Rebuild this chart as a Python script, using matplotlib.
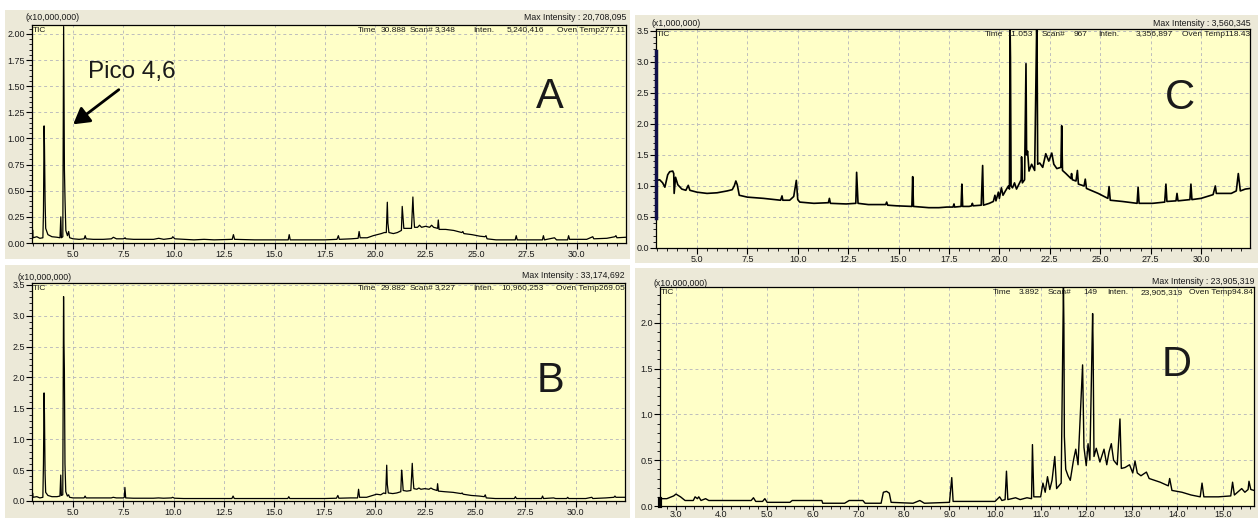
import matplotlib
matplotlib.use("Agg")
import matplotlib.pyplot as plt
from matplotlib.patches import Rectangle, FancyArrowPatch
from matplotlib.ticker import MultipleLocator, FormatStrFormatter

# ---------------- data (retention time in min, intensity in axis units) -------------
ab_time = [3.00, 3.01, 3.20, 3.35, 3.50, 3.53, 3.56, 3.58, 3.61, 3.64, 3.75, 3.95, 4.20, 4.35,
           4.39, 4.42, 4.49, 4.53, 4.55, 4.57, 4.60, 4.64, 4.72, 4.78, 4.83, 5.00, 5.30, 5.55,
           5.60, 5.65, 6.00, 6.50, 6.90, 7.00, 7.15, 7.50, 7.55, 7.58, 7.62, 8.00, 9.00, 9.25,
           9.50, 9.90, 9.95, 10.05, 10.50, 11.00, 11.50, 12.00, 12.90, 12.96, 13.02, 14.00,
           15.00, 15.68, 15.73, 15.78, 16.50, 17.50, 18.10, 18.17, 18.22, 18.80, 19.15, 19.20,
           19.25, 19.60, 19.90, 20.10, 20.30, 20.45, 20.55, 20.60, 20.63, 20.68, 20.90, 21.10,
           21.30, 21.34, 21.37, 21.42, 21.60, 21.80, 21.87, 21.90, 21.95, 22.10, 22.20, 22.30,
           22.50, 22.70, 22.80, 22.90, 23.10, 23.13, 23.17, 23.50, 23.90, 24.30, 24.35, 24.40,
           24.80, 25.20, 25.45, 25.50, 25.55, 26.00, 26.50, 26.95, 27.00, 27.05, 28.30, 28.35,
           28.40, 28.90, 29.00, 29.55, 29.60, 29.65, 30.50, 30.80, 30.85, 31.50, 31.90, 31.95,
           32.00, 32.45]

a_inten = [0.12, 0.05, 0.06, 0.045, 0.05, 0.30, 1.12, 0.92, 0.40, 0.14, 0.08, 0.06, 0.055, 0.05,
           0.25, 0.05, 0.06, 2.07, 1.28, 0.70, 0.41, 0.12, 0.07, 0.11, 0.05, 0.04, 0.035, 0.04,
           0.07, 0.04, 0.035, 0.035, 0.04, 0.055, 0.04, 0.04, 0.045, 0.05, 0.04, 0.035, 0.035, 0.045,
           0.035, 0.045, 0.06, 0.04, 0.035, 0.03, 0.035, 0.03, 0.035, 0.08, 0.035, 0.03,
           0.03, 0.03, 0.08, 0.03, 0.03, 0.03, 0.035, 0.07, 0.035, 0.04, 0.045, 0.11,
           0.05, 0.05, 0.07, 0.08, 0.09, 0.10, 0.10, 0.39, 0.19, 0.10, 0.09, 0.10,
           0.12, 0.35, 0.27, 0.14, 0.14, 0.14, 0.44, 0.30, 0.15, 0.15, 0.17, 0.15,
           0.16, 0.15, 0.17, 0.15, 0.14, 0.22, 0.13, 0.13, 0.12, 0.10, 0.11, 0.09,
           0.08, 0.065, 0.06, 0.07, 0.04, 0.03, 0.03, 0.03, 0.07, 0.03, 0.03, 0.07,
           0.03, 0.05, 0.03, 0.03, 0.07, 0.035, 0.035, 0.06, 0.04, 0.045, 0.06, 0.07,
           0.05, 0.055]

b_inten = [0.12, 0.06, 0.07, 0.05, 0.06, 0.60, 1.75, 1.40, 0.45, 0.14, 0.09, 0.07, 0.07, 0.08,
           0.42, 0.09, 0.10, 3.31, 2.57, 2.13, 0.60, 0.15, 0.08, 0.10, 0.06, 0.05, 0.05, 0.05,
           0.08, 0.05, 0.05, 0.05, 0.05, 0.06, 0.05, 0.05, 0.06, 0.22, 0.05, 0.045, 0.045, 0.05,
           0.045, 0.05, 0.06, 0.045, 0.04, 0.04, 0.04, 0.04, 0.04, 0.08, 0.04, 0.04,
           0.04, 0.04, 0.07, 0.04, 0.04, 0.04, 0.045, 0.09, 0.045, 0.05, 0.05, 0.19,
           0.06, 0.06, 0.09, 0.11, 0.10, 0.13, 0.12, 0.58, 0.27, 0.13, 0.12, 0.13,
           0.15, 0.50, 0.40, 0.17, 0.16, 0.17, 0.61, 0.40, 0.20, 0.19, 0.21, 0.19,
           0.20, 0.19, 0.21, 0.19, 0.17, 0.28, 0.16, 0.15, 0.14, 0.12, 0.13, 0.11,
           0.09, 0.08, 0.07, 0.10, 0.05, 0.04, 0.04, 0.04, 0.07, 0.04, 0.04, 0.08,
           0.04, 0.05, 0.04, 0.04, 0.06, 0.04, 0.04, 0.06, 0.04, 0.05, 0.06, 0.08,
           0.06, 0.06]

c_time = [3.00, 3.15, 3.30, 3.41, 3.55, 3.65, 3.80, 3.85, 3.87, 3.94, 4.05, 4.25, 4.45, 4.57,
          4.65, 5.00, 5.50, 6.00, 6.50, 6.75, 6.85, 6.93, 7.00, 7.10, 7.50, 8.30, 9.15, 9.22,
          9.26, 9.60, 9.80, 9.93, 10.00, 10.10, 10.80, 11.52, 11.57, 11.62, 12.40, 12.88, 12.92,
          12.95, 12.99, 13.50, 14.36, 14.41, 14.46, 14.90, 15.66, 15.70, 15.74, 16.50, 17.00,
          17.40, 17.70, 17.75, 17.78, 18.10, 18.14, 18.18, 18.50, 18.62, 18.66, 18.70, 19.10,
          19.17, 19.21, 19.50, 19.70, 19.78, 19.83, 19.95, 20.00, 20.10, 20.18, 20.30, 20.45,
          20.50, 20.53, 20.55, 20.58, 20.65, 20.75, 20.85, 21.00, 21.08, 21.10, 21.14, 21.25,
          21.32, 21.35, 21.40, 21.47, 21.60, 21.75, 21.85, 21.87, 21.90, 22.00, 22.15, 22.30,
          22.45, 22.60, 22.70, 22.85, 23.05, 23.09, 23.13, 23.30, 23.55, 23.58, 23.62, 23.80,
          23.87, 23.92, 24.20, 24.26, 24.32, 24.90, 25.38, 25.44, 25.50, 26.10, 26.83, 26.88,
          26.93, 27.60, 28.20, 28.26, 28.31, 28.76, 28.81, 28.86, 29.45, 29.50, 29.55, 30.00,
          30.30, 30.60, 30.71, 30.76, 31.50, 31.75, 31.85, 31.95, 32.20, 32.43]

c_inten = [1.09, 1.10, 1.05, 0.98, 1.18, 1.23, 1.24, 1.20, 0.88, 1.14, 1.02, 0.95, 0.93, 1.01,
           0.93, 0.90, 0.88, 0.89, 0.92, 0.94, 1.00, 1.08, 1.02, 0.85, 0.82, 0.80, 0.77, 0.84,
           0.77, 0.77, 0.83, 1.09, 0.78, 0.74, 0.72, 0.73, 0.80, 0.72, 0.71, 0.72, 1.22,
           1.02, 0.72, 0.70, 0.70, 0.74, 0.69, 0.68, 0.67, 1.15, 0.67, 0.65, 0.65,
           0.66, 0.66, 0.71, 0.66, 0.67, 1.03, 0.67, 0.67, 0.68, 0.72, 0.68, 0.69,
           1.33, 0.69, 0.72, 0.75, 0.85, 0.76, 0.90, 0.80, 0.97, 0.85, 0.92, 1.00,
           0.95, 3.56, 3.07, 1.00, 0.97, 1.05, 0.95, 1.05, 1.10, 1.47, 1.05, 1.10,
           2.97, 1.50, 1.56, 1.24, 1.35, 1.25, 3.56, 3.23, 1.35, 1.37, 1.30, 1.52,
           1.40, 1.53, 1.35, 1.28, 1.30, 1.97, 1.25, 1.20, 1.12, 1.20, 1.10, 1.08,
           1.25, 1.03, 1.00, 1.11, 0.96, 0.88, 0.80, 0.99, 0.77, 0.75, 0.72, 0.98,
           0.72, 0.72, 0.74, 1.03, 0.75, 0.76, 0.88, 0.76, 0.78, 1.03, 0.78, 0.80,
           0.83, 0.86, 1.00, 0.88, 0.88, 0.92, 1.20, 0.92, 0.95, 0.96]

c_marker = [0.48, 3.18]

d_time = [2.65, 2.66, 2.80, 2.95, 3.00, 3.10, 3.20, 3.38, 3.42, 3.47, 3.50, 3.55, 3.65, 3.72,
          4.00, 4.40, 4.65, 4.70, 4.75, 4.90, 4.95, 5.00, 5.50, 5.55, 6.00, 6.20, 6.22, 6.70,
          6.80, 7.10, 7.15, 7.50, 7.55, 7.62, 7.68, 7.72, 8.20, 8.35, 8.45, 9.00, 9.05, 9.08,
          9.50, 10.00, 10.10, 10.15, 10.22, 10.25, 10.28, 10.45, 10.55, 10.70, 10.80, 10.82,
          10.85, 11.00, 11.05, 11.10, 11.15, 11.20, 11.25, 11.31, 11.35, 11.45, 11.50, 11.51,
          11.52, 11.55, 11.60, 11.65, 11.72, 11.77, 11.82, 11.92, 11.95, 12.00, 12.04, 12.08,
          12.14, 12.15, 12.17, 12.22, 12.30, 12.39, 12.45, 12.50, 12.55, 12.60, 12.68, 12.74,
          12.77, 12.85, 12.95, 13.02, 13.07, 13.12, 13.20, 13.32, 13.38, 13.62, 13.80, 13.83,
          13.88, 14.10, 14.30, 14.50, 14.54, 14.58, 14.90, 15.17, 15.21, 15.25, 15.41, 15.48,
          15.55, 15.57, 15.61, 15.68]

d_inten = [0.11, 0.08, 0.08, 0.11, 0.13, 0.10, 0.06, 0.06, 0.10, 0.08, 0.10, 0.06, 0.08, 0.06,
           0.06, 0.06, 0.06, 0.09, 0.05, 0.05, 0.08, 0.04, 0.04, 0.06, 0.06, 0.06, 0.03, 0.03,
           0.06, 0.06, 0.03, 0.03, 0.15, 0.16, 0.14, 0.04, 0.03, 0.06, 0.03, 0.04, 0.31, 0.05,
           0.05, 0.05, 0.10, 0.06, 0.07, 0.38, 0.07, 0.09, 0.07, 0.09, 0.08, 0.67,
           0.10, 0.10, 0.25, 0.15, 0.32, 0.18, 0.28, 0.54, 0.19, 0.25, 2.39, 1.96,
           0.76, 0.40, 0.33, 0.28, 0.50, 0.62, 0.45, 1.54, 0.64, 0.44, 0.68, 0.50,
           2.10, 1.76, 0.54, 0.63, 0.48, 0.62, 0.45, 0.59, 0.68, 0.50, 0.45, 0.95,
           0.41, 0.42, 0.45, 0.36, 0.49, 0.36, 0.33, 0.37, 0.30, 0.26, 0.22, 0.30,
           0.17, 0.15, 0.12, 0.10, 0.25, 0.10, 0.10, 0.11, 0.26, 0.12, 0.19, 0.15,
           0.18, 0.27, 0.18, 0.17]

d_marker = [0.0, 0.08]

panel_letters = ["A", "B", "C", "D"]
scale_labels = ["(x10,000,000)", "(x10,000,000)", "(x1,000,000)", "(x10,000,000)"]
max_labels = ["Max Intensity : 20,708,095", "Max Intensity : 33,174,692",
              "Max Intensity : 3,560,345", "Max Intensity : 23,905,319"]
time_vals = ["30.888", "29.882", "11.053", "3.892"]
scan_vals = ["3,348", "3,227", "967", "149"]
inten_vals = ["5,240,416", "10,960,253", "3,356,897", "23,905,319"]
oven_vals = ["Oven Temp277.11", "Oven Temp269.05", "Oven Temp118.43", "Oven Temp94.84"]

# ---------------- figure -------------------------------------------------------------
W, H = 1258, 518
fig = plt.figure(figsize=(W / 100, H / 100), dpi=100)
fig.patch.set_facecolor("white")

SMALL = ["Liberation Sans Narrow", "Liberation Sans", "DejaVu Sans"]
BIG = ["Liberation Sans", "DejaVu Sans"]
PANEL_BG = "#ECE9D8"
PLOT_BG = "#FFFFC8"
TXT = "#1a1a1a"


def frect(l, t, r, b):
    return [l / W, 1 - b / H, (r - l) / W, (b - t) / H]


def ftext(px, py, s, ha="left", size=6.3, family=SMALL, **kw):
    fig.text(px / W, 1 - py / H, s, ha=ha, va="center", fontsize=size,
             family=family, color=TXT, **kw)


layouts = [
    dict(bg=(5, 10, 630, 259), ax=(32, 25, 626, 243), x=ab_time, y=a_inten, lw=0.9,
         xlim=(2.96, 32.45), ylim=(0, 2.085), xmaj=2.5, xmin=0.5, ymaj=0.25, ymin=0.05,
         yfmt="%.2f", letter=(550, 97), scale=(25, 18), tic=(33, 30), maxp=(626, 17),
         row=dict(py=30, time=358, tval=406, scan=410, sval=456, inten=473, ival=544, oven=625)),
    dict(bg=(5, 265, 630, 518), ax=(32, 283, 625, 501), x=ab_time, y=b_inten, lw=0.9,
         xlim=(2.96, 32.45), ylim=(0, 3.53), xmaj=2.5, xmin=0.5, ymaj=0.5, ymin=0.1,
         yfmt="%.1f", letter=(550, 381), scale=(17, 278), tic=(33, 288), maxp=(625, 276),
         row=dict(py=288, time=358, tval=406, scan=410, sval=456, inten=473, ival=544, oven=625)),
    dict(bg=(635, 15, 1258, 263), ax=(656, 29, 1250, 248), x=c_time, y=c_inten, lw=1.2,
         xlim=(2.97, 32.43), ylim=(0, 3.53), xmaj=2.5, xmin=0.5, ymaj=0.5, ymin=0.1,
         yfmt="%.1f", letter=(1180, 98), scale=(651, 24), tic=(657, 34), maxp=(1251, 23),
         row=dict(py=34, time=985, tval=1033, scan=1042, sval=1088, inten=1098, ival=1173, oven=1250)),
    dict(bg=(635, 268, 1258, 518), ax=(660, 287, 1254, 506), x=d_time, y=d_inten, lw=1.0,
         xlim=(2.65, 15.68), ylim=(0, 2.39), xmaj=1.0, xmin=0.2, ymaj=0.5, ymin=0.1,
         yfmt="%.1f", letter=(1177, 365), scale=(654, 283), tic=(661, 293), maxp=(1254, 282),
         row=dict(py=293, time=993, tval=1040, scan=1048, sval=1097, inten=1107, ival=1183, oven=1253)),
]

for k, L in enumerate(layouts):
    l, t, r, b = L["bg"]
    fig.add_artist(Rectangle((l / W, 1 - b / H), (r - l) / W, (b - t) / H,
                             transform=fig.transFigure, facecolor=PANEL_BG,
                             edgecolor="none", zorder=0))
    ax = fig.add_axes(frect(*L["ax"]))
    ax.set_facecolor(PLOT_BG)
    ax.plot(L["x"], L["y"], color="black", lw=L["lw"], zorder=3)
    ax.set_xlim(*L["xlim"])
    ax.set_ylim(*L["ylim"])
    ax.xaxis.set_major_locator(MultipleLocator(L["xmaj"]))
    ax.xaxis.set_minor_locator(MultipleLocator(L["xmin"]))
    ax.yaxis.set_major_locator(MultipleLocator(L["ymaj"]))
    ax.yaxis.set_minor_locator(MultipleLocator(L["ymin"]))
    ax.xaxis.set_major_formatter(FormatStrFormatter("%.1f"))
    ax.yaxis.set_major_formatter(FormatStrFormatter(L["yfmt"]))
    ax.grid(True, which="major", color="#BDBDBD", linestyle=(0, (3, 3)), linewidth=0.7)
    ax.tick_params(which="major", direction="out", length=4, width=0.8, pad=1,
                   labelsize=6.5, colors="black", top=False, right=False)
    ax.tick_params(which="minor", direction="out", length=2, width=0.6, top=False, right=False)
    if k == 3:
        ax.tick_params(axis="x", which="major", length=3, pad=0)
    for lab in ax.get_xticklabels() + ax.get_yticklabels():
        lab.set_family(SMALL)
        lab.set_color(TXT)
    for s in ax.spines.values():
        s.set_color("black")
        s.set_linewidth(0.9)

    if k == 2:
        ax.plot([L["xlim"][0]] * 2, c_marker, color="#10104a", lw=2.5, zorder=4, clip_on=False)
    if k == 3:
        ax.plot([L["xlim"][0]] * 2, d_marker, color="black", lw=3, zorder=4, clip_on=False)

    ftext(L["scale"][0], L["scale"][1], scale_labels[k])
    ftext(L["tic"][0], L["tic"][1], "TIC", size=6)
    ftext(L["maxp"][0], L["maxp"][1], max_labels[k], ha="right")
    R = L["row"]
    ftext(R["time"], R["py"], "Time", size=6)
    ftext(R["tval"], R["py"], time_vals[k], ha="right", size=6)
    ftext(R["scan"], R["py"], "Scan#", size=6)
    ftext(R["sval"], R["py"], scan_vals[k], ha="right", size=6)
    ftext(R["inten"], R["py"], "Inten.", size=6)
    ftext(R["ival"], R["py"], inten_vals[k], ha="right", size=6)
    ftext(R["oven"], R["py"], oven_vals[k], ha="right", size=6)

    ftext(L["letter"][0], L["letter"][1], panel_letters[k], ha="center", size=30, family=BIG)

# annotation on panel A
ftext(132, 72, "Pico 4,6", ha="center", size=17.5, family=BIG)
fig.add_artist(FancyArrowPatch(
    posA=(121 / W, 1 - 88 / H), posB=(71 / W, 1 - 126 / H), transform=fig.transFigure,
    arrowstyle="-|>,head_length=6,head_width=3.5", mutation_scale=1.6, color="black",
    lw=2.0, zorder=10))

fig.savefig("out.png", dpi=100, facecolor="white")
